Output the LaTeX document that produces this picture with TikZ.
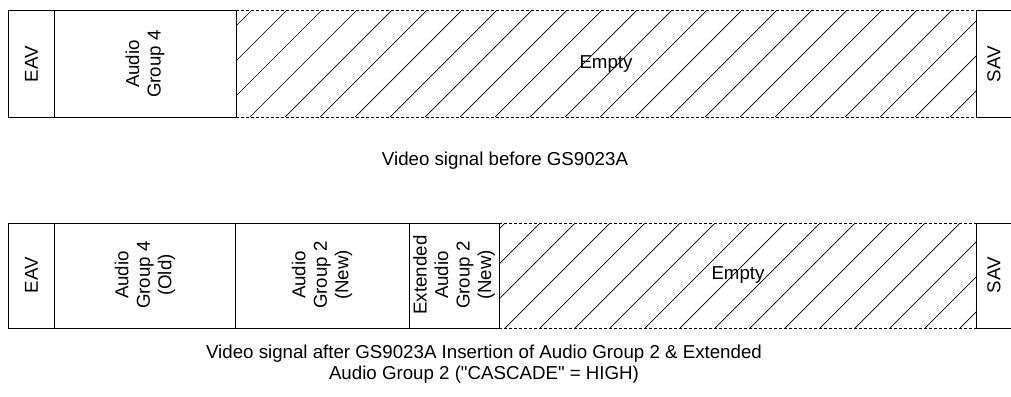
\documentclass[tikz,border=0pt]{standalone}
\usepackage{fontspec}
\setmainfont{Liberation Sans}[Ligatures=TeXOff]
\begin{document}
\begin{tikzpicture}[x=1pt,y=-1pt]
\tikzset{
  cell/.style={rotate=90, align=center, inner sep=0pt, font=\fontsize{18.7}{21.5}\selectfont},
  txt/.style={align=center, inner sep=0pt, font=\fontsize{18.7}{21.5}\selectfont},
  frame/.style={line width=1pt},
  hatch/.style={line width=0.7pt},
  gapline/.style={line width=1pt, dash pattern=on 3pt off 2pt}
}
\useasboundingbox (0,0) rectangle (1011,396);

% video signal before
\draw[frame] (8.5,11) rectangle (54.5,117);
\draw[frame] (54.5,11) rectangle (236,117);
\begin{scope}
  \clip (236,11) rectangle (976,117);
  \foreach \k in {-4,...,21}
    \draw[hatch] ({250+35*\k},117) -- ({356+35*\k},11);
\end{scope}
\draw[gapline] (236,11) -- (976,11);
\draw[gapline] (236,117) -- (976,117);
\draw[frame] (1015,11) -- (976,11) -- (976,117) -- (1015,117);

\node[cell] (eav1) at (31.5,64) {EAV};
\node[cell] (grp4) at (145,64) {Audio\\Group 4};
\node[txt] (empty1) at (606,64) {Empty};
\node[cell] (sav1) at (994,64) {SAV};

\node[txt] (cap1) at (505,161) {Video signal before GS9023A};

% video signal after
\draw[frame] (8.5,223) rectangle (54.5,328);
\draw[frame] (54.5,223) rectangle (235.5,328);
\draw[frame] (235.5,223) rectangle (409,328);
\draw[frame] (409,223) rectangle (499,328);
\begin{scope}
  \clip (499,223) rectangle (976,328);
  \foreach \k in {10,...,29}
    \draw[hatch] ({15+35*\k},328) -- ({120+35*\k},223);
\end{scope}
\draw[gapline] (499,223) -- (976,223);
\draw[gapline] (499,328) -- (976,328);
\draw[frame] (1015,223) -- (976,223) -- (976,328) -- (1015,328);

\node[cell] (eav2) at (31.5,275) {EAV};
\node[cell] (grp4old) at (145,275) {Audio\\Group 4\\(Old)};
\node[cell] (grp2new) at (322,275) {Audio\\Group 2\\(New)};
\node[cell] (extgrp2) at (454,275) {Extended\\Audio\\Group 2\\(New)};
\node[txt] (empty2) at (738,275) {Empty};
\node[cell] (sav2) at (994,275) {SAV};

\node[txt] (cap2) at (484,364) {Video signal after GS9023A Insertion of Audio Group 2 \& Extended\\Audio Group 2 ("CASCADE" = HIGH)};
\end{tikzpicture}
\end{document}
